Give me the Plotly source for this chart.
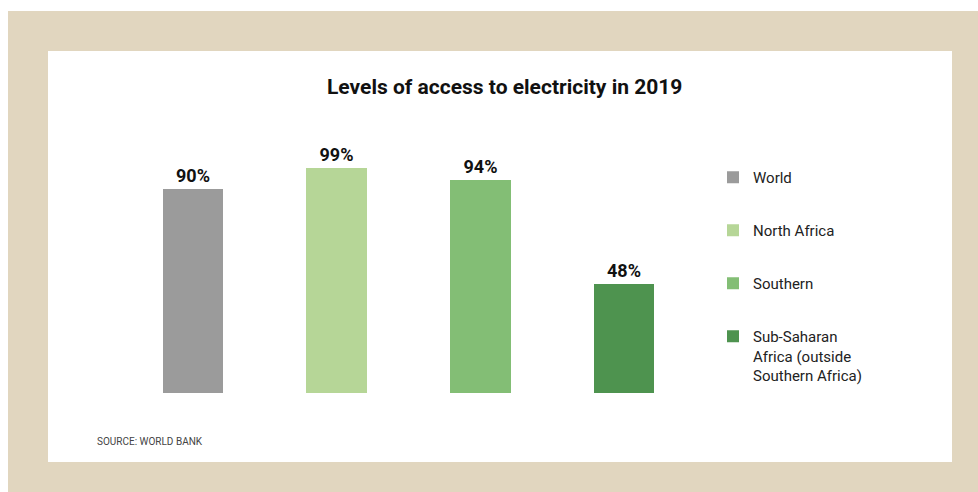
import plotly.graph_objects as go

categories = ["World", "North Africa", "Southern", "Sub-Saharan<br>Africa (outside<br>Southern Africa)"]
values = [90, 99, 94, 48]
colors = ["#9B9B9B", "#B6D697", "#83BE75", "#4E934F"]

W, H = 978, 492

def px(x):
    return x / W

def py(y):
    return 1 - y / H

fig = go.Figure()
for i, (c, v, col) in enumerate(zip(categories, values, colors)):
    fig.add_trace(go.Bar(
        x=[i], y=[v], name=c, marker=dict(color=col, line=dict(width=0)),
        width=0.42, legendgroup=str(i),
        texttemplate="<b>%{y}%</b>", textposition="outside",
        textfont=dict(family="Roboto", size=18, color="#111"),
        cliponaxis=False,
    ))

fig.update_layout(
    width=W, height=H,
    margin=dict(l=0, r=0, t=0, b=0),
    paper_bgcolor="white",
    plot_bgcolor="rgba(0,0,0,0)",
    font=dict(family="Roboto", color="#222"),
    showlegend=True,
    bargap=0,
    xaxis=dict(domain=[px(121), px(696)], range=[-0.5, 3.5], visible=False),
    yaxis=dict(domain=[py(393), py(166)], range=[0, 100], visible=False),
    legend=dict(
        x=px(713), y=py(161), xanchor="left", yanchor="top",
        font=dict(family="Roboto", size=15, color="#222"),
        tracegroupgap=30.5, valign="top", bgcolor="rgba(0,0,0,0)",
        itemwidth=30,
    ),
    shapes=[
        dict(type="rect", xref="paper", yref="paper", x0=px(8), x1=1, y0=0, y1=py(11),
             fillcolor="#E1D6BF", line=dict(width=0), layer="below"),
        dict(type="rect", xref="paper", yref="paper", x0=px(48), x1=px(952), y0=py(462), y1=py(51),
             fillcolor="white", line=dict(width=0), layer="below"),
    ],
    annotations=[
        dict(text="<b>Levels of access to electricity in 2019</b>", xref="paper", yref="paper",
             x=px(504), y=py(87), xanchor="center", yanchor="middle", showarrow=False,
             font=dict(family="Roboto", size=21, color="#111")),
        dict(text="SOURCE: WORLD BANK", xref="paper", yref="paper",
             x=px(95), y=py(441), xanchor="left", yanchor="middle", showarrow=False,
             font=dict(family="Roboto", size=10, color="#444")),
    ],
)

fig.write_html("out.html")
